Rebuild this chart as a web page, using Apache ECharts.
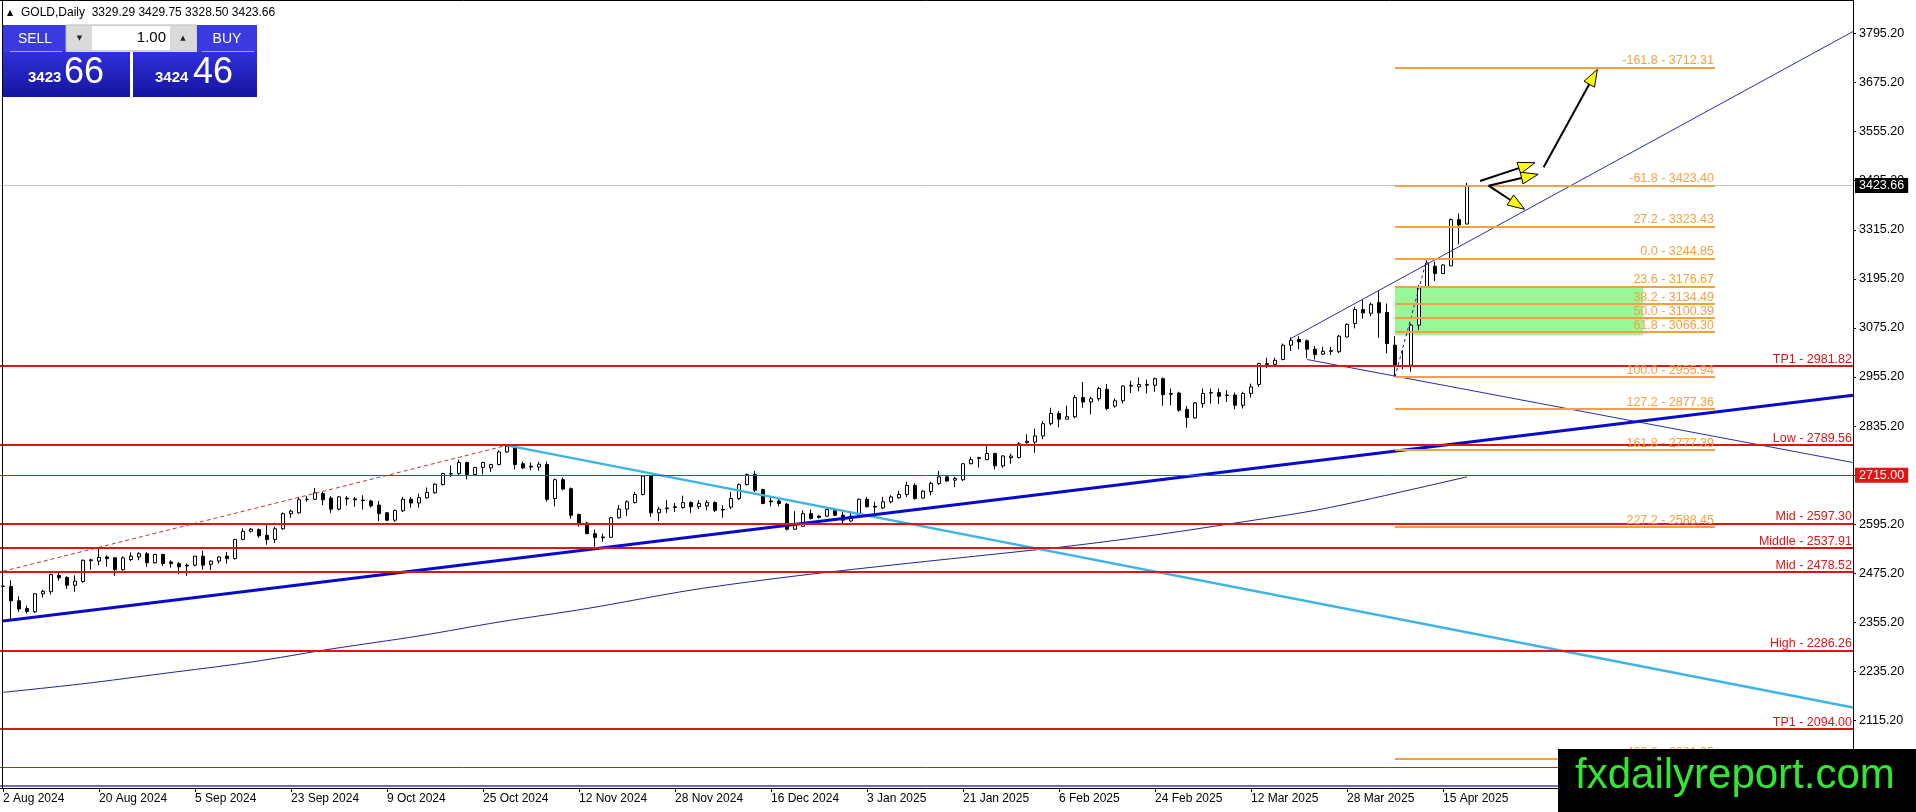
<!DOCTYPE html>
<html><head><meta charset="utf-8">
<script src="https://cdn.jsdelivr.net/npm/echarts@6/dist/echarts.min.js"></script>
<style>html,body{margin:0;padding:0;background:#fff;overflow:hidden}#c{width:1916px;height:812px}</style>
</head><body><div id="c"></div>
<script>
// ---- DATA (bar index on x, price on y) ----
// candles: [open, high, low, close], one per daily bar starting 2 Aug 2024
const candles = [
[2444,2477,2410,2443],[2443,2458,2362,2408],[2408,2419,2381,2388],[2389,2396,2377,2382],[2381,2426,2378,2425],
[2425,2435,2416,2431],[2430,2474,2423,2472],[2470,2476,2457,2464],[2465,2468,2437,2446],[2446,2470,2430,2456],
[2455,2509,2452,2507],[2506,2511,2484,2508],[2505,2535,2495,2514],[2515,2519,2491,2511],[2513,2515,2469,2484],
[2484,2517,2482,2513],[2509,2526,2505,2517],[2515,2527,2507,2523],[2523,2527,2491,2501],[2501,2523,2499,2521],
[2521,2523,2493,2499],[2503,2507,2489,2499],[2499,2503,2473,2491],[2495,2499,2469,2493],[2495,2517,2492,2517],
[2517,2530,2484,2495],[2497,2507,2483,2505],[2505,2517,2499,2515],[2517,2527,2499,2511],[2511,2559,2509,2558],
[2558,2585,2556,2578],[2578,2586,2575,2583],[2582,2585,2562,2567],[2568,2597,2545,2558],[2558,2589,2549,2584],
[2584,2624,2582,2621],[2621,2631,2611,2627],[2623,2662,2621,2655],[2655,2664,2650,2656],[2656,2684,2654,2672],
[2670,2674,2642,2655],[2659,2664,2623,2632],[2632,2664,2629,2662],[2659,2664,2641,2657],[2657,2662,2638,2655],
[2654,2666,2631,2653],[2652,2655,2636,2640],[2642,2652,2603,2621],[2623,2625,2603,2605],[2605,2631,2601,2629],
[2628,2662,2625,2656],[2656,2662,2636,2647],[2647,2670,2636,2660],[2660,2685,2658,2673],[2672,2695,2670,2693],
[2692,2721,2690,2719],[2719,2739,2711,2718],[2719,2753,2715,2746],[2746,2748,2705,2717],[2717,2735,2715,2734],
[2734,2748,2717,2746],[2733,2743,2723,2741],[2741,2776,2739,2772],[2772,2788,2770,2786],[2783,2786,2729,2741],
[2743,2748,2730,2733],[2737,2746,2727,2735],[2735,2748,2726,2742],[2741,2748,2651,2656],[2658,2707,2639,2704],
[2704,2709,2678,2681],[2682,2685,2609,2617],[2619,2621,2589,2598],[2598,2601,2571,2572],[2572,2582,2540,2563],
[2564,2572,2552,2562],[2563,2613,2563,2611],[2611,2642,2609,2632],[2632,2654,2615,2650],[2648,2674,2646,2668],
[2668,2715,2666,2713],[2713,2715,2613,2623],[2623,2638,2603,2632],[2633,2654,2623,2635],[2636,2647,2625,2638],
[2636,2665,2633,2648],[2648,2651,2623,2638],[2638,2654,2632,2646],[2640,2654,2629,2648],[2648,2651,2625,2629],
[2631,2642,2611,2630],[2637,2674,2632,2658],[2658,2695,2654,2692],[2692,2719,2690,2717],[2717,2725,2674,2678],
[2680,2682,2644,2646],[2652,2662,2639,2650],[2652,2662,2639,2646],[2644,2647,2580,2583],[2583,2627,2582,2593],
[2590,2629,2589,2621],[2621,2631,2607,2609],[2615,2617,2609,2612],[2615,2633,2613,2631],[2629,2633,2615,2617],
[2617,2625,2594,2605],[2603,2623,2601,2615],[2613,2658,2611,2656],[2656,2662,2636,2638],[2639,2650,2617,2637],
[2635,2662,2633,2650],[2650,2666,2646,2662],[2660,2677,2658,2668],[2668,2699,2662,2690],[2690,2695,2655,2658],
[2659,2678,2658,2676],[2675,2699,2666,2695],[2695,2725,2691,2711],[2711,2715,2699,2701],[2703,2711,2686,2707],
[2704,2745,2701,2743],[2743,2760,2742,2753],[2756,2760,2734,2758],[2753,2786,2752,2768],[2768,2770,2729,2738],
[2738,2764,2733,2762],[2758,2768,2743,2762],[2758,2796,2756,2792],[2795,2815,2792,2798],[2796,2829,2770,2811],
[2811,2847,2803,2841],[2841,2880,2837,2866],[2866,2872,2832,2852],[2852,2885,2852,2858],[2858,2911,2854,2905],
[2905,2943,2880,2894],[2894,2907,2864,2902],[2902,2931,2897,2927],[2925,2938,2874,2878],[2884,2903,2880,2897],
[2897,2935,2890,2933],[2933,2946,2916,2935],[2931,2954,2920,2937],[2935,2949,2915,2937],[2935,2954,2919,2951],
[2951,2954,2885,2912],[2915,2927,2886,2913],[2916,2919,2870,2874],[2876,2884,2831,2856],[2855,2894,2854,2892],
[2890,2927,2880,2915],[2916,2927,2890,2917],[2917,2927,2889,2908],[2911,2923,2894,2910],[2911,2917,2876,2886],
[2886,2919,2878,2915],[2915,2939,2905,2931],[2937,2990,2931,2988],[2988,3002,2977,2986],[2986,3002,2984,2996],
[2998,3037,2996,3033],[3033,3052,3019,3045],[3047,3055,3023,3041],[3044,3047,3001,3023],[3023,3031,2998,3010],
[3011,3029,3009,3018],[3018,3029,3009,3020],[3017,3058,3014,3055],[3053,3086,3052,3084],[3086,3127,3074,3120],
[3120,3145,3098,3112],[3111,3137,3104,3133],[3137,3165,3051,3112],[3113,3135,3013,3037],[3033,3055,2955.94,2984],
[2983,3021,2974,2982],[2984,3086,2968,3082],[3082,3180,3070,3175],[3175,3244.85,3174,3234],[3226,3237,3190,3208],
[3208,3231,3207,3229],[3227,3343,3227,3340],[3340,3355,3280,3327],[3329.29,3429.75,3328.50,3423.66]
];
const tickIndex  = [0,12,24,36,48,60,72,84,96,108,120,132,144,156,168,180];
const tickLabels = ['2 Aug 2024','20 Aug 2024','5 Sep 2024','23 Sep 2024','9 Oct 2024','25 Oct 2024','12 Nov 2024','28 Nov 2024',
                    '16 Dec 2024','3 Jan 2025','21 Jan 2025','6 Feb 2025','24 Feb 2025','12 Mar 2025','28 Mar 2025','15 Apr 2025'];
const priceTicks = [1995.2,2115.2,2235.2,2355.2,2475.2,2595.2,2715.2,2835.2,2955.2,3075.2,3195.2,3315.2,3435.2,3555.2,3675.2,3795.2];
const redNames  = ['TP1','Low','Mid','Middle','Mid','High','TP1'];
const redLevels = [2981.82,2789.56,2597.30,2537.91,2478.52,2286.26,2094.00];
const boxLevels = [2715.00, 2000.00];
const bidPrice = 3423.66;
const bottomLine = 1955;
const fibLevels = ['-161.8','-61.8','27.2','0.0','23.6','38.2','50.0','61.8','100.0','127.2','161.8','227.2','423.6'];
const fibPrices = [3712.31,3423.40,3323.43,3244.85,3176.67,3134.49,3100.39,3066.30,2955.94,2877.36,2777.39,2588.45,2021.05];
const fibSpan = [174, 214];
const fibZone = [[174, 3176.67, 205, 3057]];
const maPoints = [[0,2184],[10,2205],[20,2230],[31,2258],[41,2290],[52,2322],[62,2356],[73,2389],[86,2434],[98,2466],
                  [111,2495],[123,2520],[133,2541],[143,2566],[154,2598],[164,2629],[172,2662],[183,2711]];
const lineRedDotted = [[0,2480],[63,2788]];
const lineCyan      = [[63,2788],[231.25,2147]];
const lineBlue      = [[0,2358.7],[231.25,2910.5]];
const channelUp     = [[161,3049.5],[231.25,3800]];
const channelDown   = [[163,2998],[231.25,2746]];
const fibTrend      = [[174,2955.94],[178,3244.85]];
const arrows = [[192.58,3468.0,199.30,3707.6],[184.63,3434.5,191.50,3479.2],[185.70,3423.0,191.90,3450.9],[185.70,3423.0,190.20,3365.3]];

// ---- CHART ----
const RED='#E01414', OR='#F4A040', FONT='"Liberation Sans", Arial, sans-serif';
const chart = echarts.init(document.getElementById('c'), null, {renderer:'canvas'});
const candleData = candles.map((c,i)=>[i,c[0],c[3],c[2],c[1]]);

const markData = [];
redLevels.forEach((v,i)=>markData.push({yAxis:v, lineStyle:{color:RED,width:2,type:'solid'},
  label:{show:true,position:'insideEndTop',formatter:redNames[i]+' - '+v.toFixed(2),color:RED,distance:[1,0]}}));
boxLevels.forEach(v=>markData.push({yAxis:v, lineStyle:{color:RED,width:1,type:'solid'},
  label:{show:true,position:'end',formatter:v.toFixed(2),color:'#fff',backgroundColor:RED,padding:[1,4,1,4],distance:2}}));
markData.push({yAxis:bidPrice, lineStyle:{color:'#C4C4C4',width:1,type:'solid'},
  label:{show:true,position:'end',formatter:bidPrice.toFixed(2),color:'#fff',backgroundColor:'#000',padding:[1,4,1,4],distance:2}});
markData.push({yAxis:bottomLine, lineStyle:{color:'#7A68D0',width:2,type:'solid'}, label:{show:false}});
fibPrices.forEach((v,i)=>markData.push([
  {coord:[fibSpan[0],v], lineStyle:{color:OR,width:2,type:'solid'},
   label:{show:true,position:'insideEndTop',formatter:fibLevels[i]+' - '+v.toFixed(2),color:OR,distance:[1,0]}},
  {coord:[fibSpan[1],v]}]));

function lineSeries(data, color, width, type, z, smooth){
  return {type:'line', data:data, showSymbol:false, symbol:'none', smooth:smooth||false, silent:true, z:z||4,
    lineStyle:{color:color,width:width,type:type||'solid'}, animation:false};
}

const option = {
  animation:false,
  backgroundColor:'#fff',
  grid:{left:0,right:63,top:0,bottom:24,containLabel:false,outerBoundsMode:'none'},
  xAxis:{type:'value',min:-0.375,max:231.25,
    axisLine:{show:true,onZero:false,lineStyle:{color:'#000',width:1}},
    axisTick:{show:true,customValues:tickIndex,length:4,lineStyle:{color:'#000'}},
    axisLabel:{show:true,customValues:tickIndex,formatter:v=>tickLabels[tickIndex.indexOf(v)]||'',
      align:'left',margin:5,color:'#000',fontSize:12,fontFamily:FONT},
    splitLine:{show:false}},
  yAxis:{type:'value',position:'right',min:1950.1,max:3877.1,
    axisLine:{show:true,onZero:false,lineStyle:{color:'#000',width:1}},
    axisTick:{show:true,customValues:priceTicks,length:3,lineStyle:{color:'#000'}},
    axisLabel:{show:true,customValues:priceTicks,formatter:v=>v.toFixed(2),margin:6,color:'#000',fontSize:12.5,fontFamily:FONT},
    splitLine:{show:false}},
  series:[
    {type:'custom', z:1, silent:true, data:fibZone, encode:{x:[0,2],y:[1,3]},
      renderItem:(p,api)=>{const a=api.coord([api.value(0),api.value(1)]),b=api.coord([api.value(2),api.value(3)]);
        return {type:'rect',shape:{x:a[0],y:a[1],width:b[0]-a[0],height:b[1]-a[1]},style:{fill:'#98F898'}};}},
    {type:'candlestick', z:2, silent:true, data:candleData, encode:{x:0,y:[1,2,3,4]}, barWidth:4,
      itemStyle:{color:'#fff',color0:'#000',borderColor:'#000',borderColor0:'#000',borderWidth:1},
      markLine:{silent:true,symbol:['none','none'],animation:false,precision:2,z:5,
        label:{fontSize:12.5,fontFamily:FONT},data:markData}},
    lineSeries(maPoints,'#222296',1,'solid',3,0.3),
    lineSeries(lineRedDotted,'#C83030',1,[4,3],4),
    lineSeries(lineCyan,'#3CB4E6',2.5,'solid',4),
    lineSeries(lineBlue,'#0A0ACD',3,'solid',4),
    lineSeries(channelUp,'#2A2AB4',1,'solid',4),
    lineSeries(channelDown,'#2A2AB4',1,'solid',4),
    lineSeries(fibTrend,'#1A1AA0',1,[3,3],4),
    {type:'custom', z:6, silent:true, data:arrows, encode:{x:[0,2],y:[1,3]},
      renderItem:(p,api)=>{
        const a=api.coord([api.value(0),api.value(1)]), b=api.coord([api.value(2),api.value(3)]);
        const dx=b[0]-a[0], dy=b[1]-a[1], L=Math.hypot(dx,dy), ux=dx/L, uy=dy/L, hl=17, hw=6;
        const bx=b[0]-ux*hl, by=b[1]-uy*hl;
        return {type:'group',children:[
          {type:'line',shape:{x1:a[0],y1:a[1],x2:bx,y2:by},style:{stroke:'#000',lineWidth:2}},
          {type:'polygon',shape:{points:[[b[0],b[1]],[bx-uy*hw,by+ux*hw],[bx+uy*hw,by-ux*hw]]},style:{fill:'#FFFF00',stroke:'#000',lineWidth:1}}
        ]};}}
  ],
  graphic:{elements:[
    {type:'line',z:50,shape:{x1:2.5,y1:0,x2:2.5,y2:788},style:{stroke:'#000',lineWidth:1}},
    {type:'line',z:50,shape:{x1:0,y1:0.5,x2:1853,y2:0.5},style:{stroke:'#000',lineWidth:1}},
    {type:'text',z:50,style:{text:'▲',x:10,y:13,fill:'#000',font:'8px "DejaVu Sans"',align:'center',verticalAlign:'middle'}},
    {type:'text',z:50,style:{text:'GOLD,Daily  3329.29 3429.75 3328.50 3423.66',x:21,y:13,fill:'#000',font:'12px '+FONT,verticalAlign:'middle'}},
    {type:'rect',z:50,shape:{x:3,y:25,width:63,height:27},style:{fill:'#3A3AE0'}},
    {type:'text',z:51,style:{text:'SELL',x:35,y:39,fill:'#fff',font:'14px '+FONT,align:'center',verticalAlign:'middle'}},
    {type:'line',z:51,shape:{x1:10,y1:51.5,x2:62,y2:51.5},style:{stroke:'#A0A0F4',lineWidth:1}},
    {type:'rect',z:50,shape:{x:66,y:25,width:131,height:26},style:{fill:'#E8E8E8',stroke:'#B4B4B4',lineWidth:1}},
    {type:'rect',z:51,shape:{x:67,y:26,width:25,height:24},style:{fill:'#DADADA'}},
    {type:'text',z:52,style:{text:'▼',x:79.5,y:38,fill:'#222',font:'7px "DejaVu Sans"',align:'center',verticalAlign:'middle'}},
    {type:'rect',z:51,shape:{x:92,y:26,width:78,height:24},style:{fill:'#fff'}},
    {type:'text',z:52,style:{text:'1.00',x:166,y:38,fill:'#000',font:'15px '+FONT,align:'right',verticalAlign:'middle'}},
    {type:'rect',z:51,shape:{x:170,y:26,width:26,height:24},style:{fill:'#DADADA'}},
    {type:'text',z:52,style:{text:'▲',x:183,y:38,fill:'#222',font:'7px "DejaVu Sans"',align:'center',verticalAlign:'middle'}},
    {type:'rect',z:50,shape:{x:197,y:25,width:60,height:27},style:{fill:'#3A3AE0'}},
    {type:'text',z:51,style:{text:'BUY',x:227,y:39,fill:'#fff',font:'14px '+FONT,align:'center',verticalAlign:'middle'}},
    {type:'line',z:51,shape:{x1:202,y1:51.5,x2:254,y2:51.5},style:{stroke:'#A0A0F4',lineWidth:1}},
    {type:'rect',z:50,shape:{x:3,y:52,width:127,height:45},style:{fill:new echarts.graphic.LinearGradient(0,0,0,1,[{offset:0,color:'#3030DC'},{offset:1,color:'#14149E'}])}},
    {type:'text',z:51,style:{text:'3423',x:28,y:78,fill:'#fff',font:'bold 15px '+FONT,verticalAlign:'middle'}},
    {type:'text',z:51,style:{text:'66',x:64,y:73,fill:'#fff',font:'36px '+FONT,verticalAlign:'middle'}},
    {type:'rect',z:50,shape:{x:133,y:52,width:124,height:45},style:{fill:new echarts.graphic.LinearGradient(0,0,0,1,[{offset:0,color:'#3030DC'},{offset:1,color:'#14149E'}])}},
    {type:'text',z:51,style:{text:'3424',x:155,y:78,fill:'#fff',font:'bold 15px '+FONT,verticalAlign:'middle'}},
    {type:'text',z:51,style:{text:'46',x:193,y:73,fill:'#fff',font:'36px '+FONT,verticalAlign:'middle'}},
    {type:'rect',z:100,shape:{x:1558,y:749,width:358,height:63},style:{fill:'#000'}},
    {type:'text',z:101,style:{text:'fxdailyreport.com',x:1575,y:776,fill:'#33E633',font:'42px '+FONT,verticalAlign:'middle'}}
  ]}
};
chart.setOption(option);
</script></body></html>
